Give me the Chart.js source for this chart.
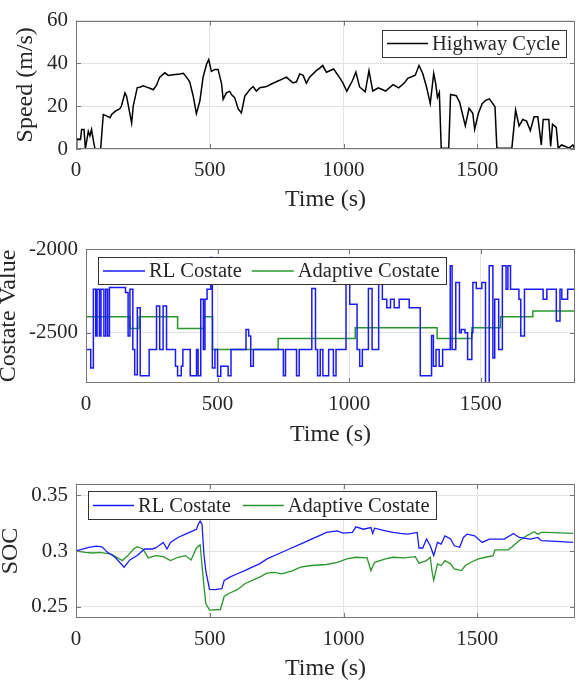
<!DOCTYPE html>
<html><head><meta charset="utf-8">
<script src="https://cdn.jsdelivr.net/npm/chart.js@4.4.1/dist/chart.umd.min.js"></script>
<style>
html,body{margin:0;padding:0;background:#fff;}
#wrap{position:relative;width:581px;height:685px;overflow:hidden;}
canvas{position:absolute;left:0;}
</style></head><body>
<div id="wrap">
<canvas id="c1" width="581" height="215" style="top:0px"></canvas>
<canvas id="c2" width="581" height="235" style="top:215px"></canvas>
<canvas id="c3" width="581" height="235" style="top:450px"></canvas>
</div>
<script>
// ---------- data ----------
const timeTicks = [0, 500, 1000, 1500];
const timeTickLabels = ['0', '500', '1000', '1500'];
const speedTicks = [0, 20, 40, 60];
const costateTicks = [-2500, -2000];
const socTicks = [0.25, 0.3, 0.35];
const socTickLabels = ['0.25', '0.3', '0.35'];

const speedTime = [0,2.5,17,21,30,35,46,52,58,65,71,92,102,114,127,133,146,164,170,183,189,208,214,229,239,251,264,276,289,301,313,332,345,363,388,401,413,425,438,450,463,475,488,496,506,519,531,544,550,562,575,581,593,606,618,631,649,662,674,687,712,736,761,786,811,824,836,849,861,873,898,911,922,936,963,984,998,1012,1033,1046,1060,1081,1095,1109,1130,1157,1185,1206,1227,1240,1268,1282,1296,1310,1324,1337,1344,1351,1358,1365,1393,1400,1421,1434,1455,1469,1483,1490,1504,1518,1531,1545,1566,1573,1629,1643,1656,1670,1684,1698,1712,1726,1739,1746,1767,1774,1781,1795,1802,1815,1829,1843,1857,1864];
const speedValues = [0,4.6,4.5,9.1,9.1,0,8.3,6.1,9.1,3.9,0,0,16.1,15.5,14.6,16.1,17.6,18.8,20.2,26.2,24.7,12.1,20.2,28.7,28.9,29.5,28.9,28.4,27.7,29.8,33.6,35.6,34.4,34.7,35.1,35.4,33.6,31.4,24.7,16.5,22.5,33.6,39.6,41.8,36.3,37.2,37.2,30.6,23.2,26.2,26.9,25.4,24.0,18.8,16.8,24.7,27.7,29.2,27.1,28.6,29.2,30.7,32.1,33.6,30.9,31.4,35.1,34.4,30.7,33.6,36.6,37.8,39.0,35.9,37.4,33.6,30.8,27.0,31.9,35.9,29.0,26.7,36.6,27.1,28.6,27.1,30.1,28.6,30.8,33.0,34.5,39.0,35.3,29.0,21.2,35.3,30.8,24.1,26.4,0.4,0.4,25.5,24.9,21.8,10.8,19.0,16.7,9.2,16.7,21.2,22.7,23.4,19.7,0.4,0.4,18.2,10.8,13.8,13.0,8.6,15.1,15.1,1.9,13.8,13.8,1.2,11.6,10.1,0.4,1.9,1.2,0.4,1.9,0];

const rlCostateTime = [0,18,28,37,42,51,57,68,75,82,89,150,160,167,178,185,195,206,240,268,280,293,306,340,348,362,368,396,420,426,436,446,452,460,474,480,490,500,512,540,551,608,618,626,636,750,758,800,810,858,872,880,890,900,922,940,950,988,1002,1030,1040,1050,1073,1087,1112,1126,1143,1157,1171,1190,1228,1270,1313,1320,1330,1342,1355,1384,1391,1405,1419,1426,1440,1450,1466,1470,1483,1504,1518,1532,1546,1553,1568,1582,1596,1603,1613,1645,1652,1666,1737,1751,1787,1801,1808,1830,1858];
const rlCostateValues = [-2600,-2710,-2240,-2520,-2240,-2520,-2240,-2520,-2240,-2520,-2230,-2260,-2520,-2240,-2600,-2750,-2350,-2756,-2600,-2340,-2600,-2340,-2600,-2700,-2756,-2700,-2600,-2756,-2600,-2756,-2300,-2600,-2300,-2240,-2050,-2710,-2600,-2760,-2700,-2756,-2600,-2480,-2520,-2700,-2600,-2756,-2600,-2756,-2600,-2236,-2600,-2756,-2600,-2756,-2600,-2756,-2600,-2080,-2330,-2600,-2700,-2600,-2236,-2600,-2100,-2300,-2350,-2300,-2350,-2300,-2350,-2756,-2516,-2700,-2600,-2700,-2600,-2100,-2600,-2200,-2500,-2480,-2500,-2660,-2500,-2200,-2236,-2200,-2800,-2100,-2650,-2300,-2600,-2100,-2240,-2100,-2240,-2300,-2520,-2240,-2300,-2240,-2430,-2240,-2300,-2240,-2240];

const adCostateTime = [0,167,202,348,447,481,730,1023,1334,1466,1575,1698,1858];
const adCostateValues = [-2405,-2475,-2405,-2475,-2405,-2600,-2535,-2470,-2535,-2470,-2405,-2370,-2370];

const rlSocTime = [0,48,76,97,118,146,180,201,229,256,284,298,326,340,353,381,409,437,450,457,464,471,478,485,499,520,545,554,575,603,631,658,686,714,755,797,839,880,908,936,977,998,1033,1046,1074,1102,1109,1116,1157,1185,1213,1240,1275,1282,1296,1310,1324,1337,1351,1365,1379,1400,1414,1434,1448,1462,1490,1518,1545,1601,1635,1656,1698,1726,1739,1795,1858];
const rlSocValues = [0.300,0.3033,0.3044,0.3038,0.2988,0.2944,0.2855,0.2920,0.2959,0.3018,0.3018,0.3027,0.3077,0.3018,0.3077,0.3121,0.3151,0.3180,0.3195,0.3240,0.3269,0.3240,0.2973,0.2825,0.2657,0.2654,0.2663,0.2737,0.2766,0.2796,0.2825,0.2855,0.2885,0.2929,0.2973,0.3018,0.3062,0.3107,0.3136,0.3166,0.3180,0.3160,0.3166,0.3216,0.3195,0.3210,0.3157,0.3204,0.3180,0.3166,0.3157,0.3151,0.3166,0.3027,0.3027,0.3107,0.3047,0.2959,0.3077,0.3062,0.3136,0.3107,0.3047,0.3033,0.3121,0.3151,0.3136,0.3077,0.3107,0.3107,0.3157,0.3121,0.3107,0.3121,0.3092,0.3086,0.3077];

const adSocTime = [0,35,62,90,132,173,194,215,229,250,270,298,326,353,381,409,430,450,464,475,485,499,540,554,575,603,631,686,714,742,769,811,839,880,936,977,1012,1046,1088,1102,1116,1157,1185,1227,1268,1282,1310,1324,1331,1337,1351,1365,1379,1400,1414,1441,1455,1476,1504,1531,1559,1566,1615,1628,1656,1684,1712,1726,1739,1760,1858];
const adSocValues = [0.300,0.2988,0.2982,0.2988,0.2973,0.2914,0.2959,0.3018,0.3038,0.3018,0.2938,0.2959,0.2950,0.2914,0.2944,0.2959,0.2920,0.3027,0.3056,0.2766,0.2530,0.2470,0.2476,0.2595,0.2624,0.2654,0.2707,0.2766,0.2802,0.2808,0.2796,0.2825,0.2855,0.2870,0.2879,0.2899,0.2929,0.2944,0.2938,0.2825,0.2899,0.2929,0.2944,0.2938,0.2950,0.2891,0.2914,0.2944,0.2811,0.2737,0.2885,0.2870,0.2914,0.2885,0.2840,0.2825,0.2870,0.2899,0.2929,0.2944,0.2959,0.3010,0.3010,0.3033,0.3092,0.3136,0.3172,0.3151,0.3166,0.3166,0.3157];

// ---------- helpers ----------
const FONT = "'Liberation Serif', 'Times New Roman', serif";
const TEXT = '#262626';
const pts = (xs, ys) => xs.map((x, i) => ({x: x, y: ys[i]}));

const framePlugin = {
  id: 'frame',
  afterDatasetsDraw(chart, args, opts) {
    const {ctx, chartArea: a, scales} = chart;
    ctx.save();
    ctx.strokeStyle = '#777';
    ctx.lineWidth = 1;
    ctx.beginPath();
    scales.x.ticks.forEach(t => {
      const px = Math.round(scales.x.getPixelForValue(t.value)) + 0.5;
      ctx.moveTo(px, a.bottom); ctx.lineTo(px, a.bottom - 5);
      ctx.moveTo(px, a.top); ctx.lineTo(px, a.top + 5);
    });
    scales.y.ticks.forEach(t => {
      const py = Math.round(scales.y.getPixelForValue(t.value)) + 0.5;
      ctx.moveTo(a.left, py); ctx.lineTo(a.left + 5, py);
      ctx.moveTo(a.right, py); ctx.lineTo(a.right - 5, py);
    });
    ctx.stroke();
    ctx.strokeRect(Math.round(a.left) + 0.5, Math.round(a.top) + 0.5, Math.round(a.width) - 1, Math.round(a.height) - 1);
    // legend inside the axes
    const L = opts.legend;
    if (L) {
      ctx.font = L.fontSize + 'px ' + FONT;
      const items = chart.data.datasets.map(d => ({label: d.label, color: d.borderColor, w: ctx.measureText(d.label).width}));
      let w = L.padL;
      items.forEach((it, i) => { w += L.sample + L.gap + it.w + (i < items.length - 1 ? L.itemGap : 0); });
      w += L.padR;
      const bx = a.left + L.dx, by = a.top + L.dy;
      ctx.fillStyle = '#fff';
      ctx.fillRect(bx, by, w, L.h);
      ctx.strokeStyle = '#333';
      ctx.strokeRect(Math.round(bx) + 0.5, Math.round(by) + 0.5, Math.round(w), Math.round(L.h));
      let x = bx + L.padL;
      const cy = by + L.h / 2 + 0.5;
      items.forEach((it, i) => {
        ctx.strokeStyle = it.color; ctx.lineWidth = 1.5;
        ctx.beginPath(); ctx.moveTo(x, cy); ctx.lineTo(x + L.sample, cy); ctx.stroke();
        x += L.sample + L.gap;
        ctx.fillStyle = TEXT; ctx.textBaseline = 'middle'; ctx.textAlign = 'left';
        ctx.fillText(it.label, x, cy + 1);
        x += it.w + L.itemGap;
      });
    }
    ctx.restore();
  }
};

function makeChart(id, cfg) {
  const xScale = {
    type: 'linear', min: 0, max: cfg.xMax,
    afterBuildTicks: s => { s.ticks = timeTicks.map(v => ({value: v})); },
    afterFit: s => { s.height = cfg.xH; },
    grid: {color: '#e3e3e3', drawTicks: false, lineWidth: 1},
    border: {display: false},
    ticks: {autoSkip: false, maxRotation: 0, padding: 9, color: TEXT, font: {family: FONT, size: 21},
      callback: v => timeTickLabels[timeTicks.indexOf(v)] ?? String(v)},
    title: {display: true, text: 'Time (s)', color: TEXT, font: {family: FONT, size: 24}, padding: {top: 0, bottom: cfg.xTitlePad}}
  };
  const yScale = {
    type: 'linear', min: cfg.yMin, max: cfg.yMax,
    afterBuildTicks: s => { s.ticks = cfg.yTicks.map(v => ({value: v})); },
    afterFit: s => { s.width = cfg.yW; },
    grid: {color: '#e3e3e3', drawTicks: false, lineWidth: 1},
    border: {display: false},
    ticks: {autoSkip: false, padding: 8, color: TEXT, font: {family: FONT, size: 21},
      callback: cfg.yLabels ? (v => cfg.yLabels[cfg.yTicks.indexOf(v)] ?? String(v)) : (v => String(v))},
    title: {display: true, text: cfg.yTitle, color: TEXT, font: {family: FONT, size: 24}, padding: {top: cfg.yTitlePad, bottom: 0}}
  };
  return new Chart(document.getElementById(id), {
    type: 'line',
    data: {datasets: cfg.datasets},
    options: {
      responsive: false, animation: false, devicePixelRatio: 1,
      layout: {padding: {left: 0, right: 6, top: cfg.padTop, bottom: 0}, autoPadding: false},
      plugins: {legend: {display: false}, tooltip: {enabled: false}, frame: {legend: cfg.legend}},
      elements: {point: {radius: 0}, line: {borderWidth: 1.5, tension: 0}},
      scales: {x: xScale, y: yScale}
    },
    plugins: [framePlugin]
  });
}

makeChart('c1', {
  xMax: 1865, xH: 66, yW: 76, padTop: 14, xTitlePad: 1, yTitlePad: 11,
  yMin: 0, yMax: 60, yTicks: speedTicks, yTitle: 'Speed (m/s)',
  legend: {dx: 306, dy: 9, h: 27, fontSize: 20.5, padL: 5, padR: 6, sample: 41, gap: 4, itemGap: 10},
  datasets: [{label: 'Highway Cycle', data: pts(speedTime, speedValues), borderColor: '#000000', borderWidth: 1.5}]
});

makeChart('c2', {
  xMax: 1858, xH: 67, yW: 86, padTop: 34, xTitlePad: 1, yTitlePad: -6,
  yMin: -2800, yMax: -2000, yTicks: costateTicks, yTitle: 'Costate Value',
  legend: {dx: 12, dy: 8, h: 27, fontSize: 20.5, padL: 5, padR: 6, sample: 42, gap: 4, itemGap: 10},
  datasets: [
    {label: 'RL Costate', data: pts(rlCostateTime, rlCostateValues), borderColor: '#1a1aff', borderWidth: 1.5, stepped: true},
    {label: 'Adaptive Costate', data: pts(adCostateTime, adCostateValues), borderColor: '#2a962a', borderWidth: 1.5, stepped: true}
  ]
});

makeChart('c3', {
  xMax: 1865, xH: 67, yW: 76, padTop: 34, xTitlePad: 2, yTitlePad: -4,
  yMin: 0.24, yMax: 0.36, yTicks: socTicks, yLabels: socTickLabels, yTitle: 'SOC',
  legend: {dx: 12, dy: 7, h: 28, fontSize: 20.5, padL: 5, padR: 6, sample: 41, gap: 4, itemGap: 12},
  datasets: [
    {label: 'RL Costate', data: pts(rlSocTime, rlSocValues), borderColor: '#1a1aff', borderWidth: 1.3},
    {label: 'Adaptive Costate', data: pts(adSocTime, adSocValues), borderColor: '#2a962a', borderWidth: 1.3}
  ]
});
</script>
</body></html>
